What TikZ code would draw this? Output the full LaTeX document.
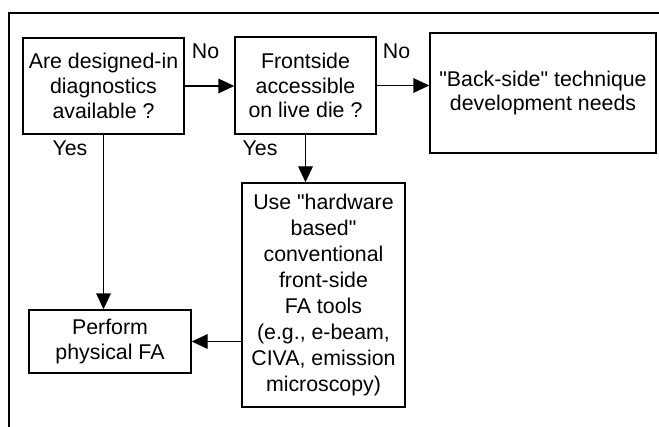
\documentclass[tikz,border=0pt]{standalone}
\usepackage{fontspec}
\setmainfont{Liberation Sans}
\usepackage{tikz}
\usetikzlibrary{shapes}
\usetikzlibrary{arrows.meta}
\tikzset{
	box node/.style={rectangle,draw,line width=1.1pt,align=center,inner sep=0pt,
		font=\fontsize{16}{18.5}\selectfont},
	tall node/.style={box node,font=\fontsize{16}{19.4}\selectfont},
	answer/.style={inner sep=0pt,font=\fontsize{16}{18}\selectfont}
}

\begin{document}
\begin{tikzpicture}[x=0.75pt,y=-0.75pt,line width=1.1pt,
            ->,>={Triangle[length=12pt,width=11pt]}]
            \useasboundingbox (0,0) rectangle (659,427);
            \draw[-] (9,427) -- (9,13) -- (659,13);
            \node [box node,minimum width=120.75pt,minimum height=72pt] (designed) at (103.5,86)
              {Are designed-in\\diagnostics\\available ?};
            \node [box node,minimum width=105.75pt,minimum height=72.75pt] (front) at (305.5,85.5)
              {Frontside\\accessible\\on live die ?};
            \node [box node,minimum width=169.5pt,minimum height=90pt] (back) at (543,93)
              {\textquotedbl Back-side\textquotedbl{} technique\\development needs};
            \node [tall node,minimum width=122.25pt,minimum height=168pt] (tools) at (323.5,295)
              {Use \textquotedbl hardware\\based\textquotedbl\\conventional\\front-side\\FA tools\\(e.g., e-beam,\\CIVA, emission\\microscopy)};
            \node [box node,minimum width=121.5pt,minimum height=47.25pt] (physical) at (110,341.5)
              {Perform\\physical FA};
            % answers
            \node [answer] (noA) at (205.5,51) {No};
            \node [answer] (noB) at (396.5,51) {No};
            \node [answer] (yesA) at (70,148) {Yes};
            \node [answer] (yesB) at (260,148) {Yes};
            % connectors
            \draw (designed.east) -- (front.west |- designed.east);
            \draw (front.east) -- (back.west |- front.east);
            \draw (designed.south) -- (physical.north -| designed.south);
            \draw (front.south) -- (tools.north -| front.south);
            \draw (tools.west |- physical.east) -- (physical.east);
          \end{tikzpicture}
\end{document}
